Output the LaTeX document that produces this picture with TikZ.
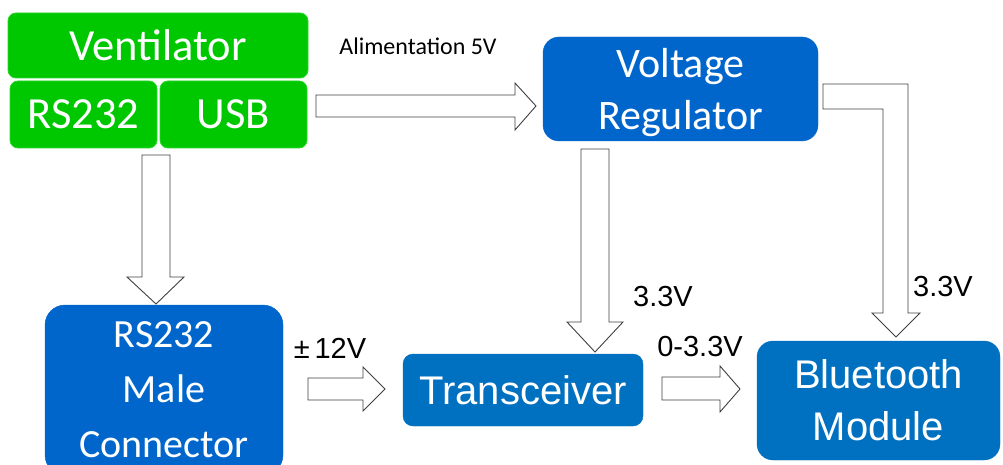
\documentclass[tikz,border=0pt]{standalone}
\usepackage{fontspec}
\setmainfont{Carlito}
\newfontfamily\arialf{Liberation Sans}
\definecolor{vgreen}{RGB}{0,200,0}
\definecolor{vgreenb}{RGB}{40,215,40}
\definecolor{vblue}{RGB}{0,102,204}
\definecolor{tblue}{RGB}{0,112,192}
\tikzset{
  gbox/.style={fill=vgreen, draw=vgreenb, line width=0.8pt, rounded corners=8pt, text=white, align=center, inner sep=0pt, font={\fontsize{44.5}{52}\selectfont}},
  bbox/.style={fill=vblue, draw=vblue, rounded corners=16pt, text=white, align=center, inner sep=0pt},
  tbox/.style={fill=tblue, draw=tblue, rounded corners=12pt, text=white, align=center, inner sep=0pt},
  wtext/.style={text=white, align=center, inner sep=0pt},
  blockarrow/.style={fill=white, draw=black!75, line width=0.9pt, line join=miter},
  lbl/.style={text=black, inner sep=0pt, font={\arialf\fontsize{29}{34}\selectfont}}
}
\begin{document}
\begin{tikzpicture}[x=1pt,y=-1pt]
\useasboundingbox (0,0) rectangle (1003,465);
\clip (0,0) rectangle (1003,465);
% green boxes
\node[gbox, minimum width=300pt, minimum height=65pt] (vent) at (158,45.5) {Ventilator};
\node[gbox, minimum width=147pt, minimum height=67pt] (rs) at (83.5,114.5) {RS232};
\node[gbox, minimum width=147pt, minimum height=67pt] (usb) at (233.5,114.5) {USB};
% blue boxes
\node[bbox, minimum width=275pt, minimum height=104pt] (vr) at (680.5,89) {};
\node[wtext, font={\fontsize{42}{52}\selectfont}] (vrt) at (680.5,93) {Voltage\\Regulator};
\node[bbox, rounded corners=20pt, minimum width=238pt, minimum height=170pt, font={\fontsize{40}{55}\selectfont}] (male) at (164,390) {RS232\\Male\\Connector};
\node[tbox, rounded corners=10pt, minimum width=240pt, minimum height=72pt, font={\arialf\fontsize{40}{48}\selectfont}] (trans) at (523,390) {Transceiver};
\node[tbox, rounded corners=16pt, minimum width=243pt, minimum height=119pt, font={\arialf\fontsize{40}{52}\selectfont}] (bt) at (878.5,400.5) {Bluetooth\\Module};
% labels
\node[lbl, font={\fontsize{24}{28}\selectfont}] (alim) at (418,46) {Alimentation 5V};
\node[lbl] (v33a) at (663,297) {3.3V};
\node[lbl] (v33b) at (943,287) {3.3V};
\node[lbl] (v12) at (330,348) {±\,12V};
\node[lbl] (v033) at (700,347) {0-3.3V};
% block arrows
% RS232 -> Male connector
\draw[blockarrow] (142,155) -- (170,155) -- (170,277) -- (184,277) -- (156,304) -- (127,277) -- (142,277) -- cycle;
% USB -> Voltage regulator
\draw[blockarrow] (316,95) -- (515,95) -- (515,83) -- (536,106) -- (515,130) -- (515,117) -- (316,117) -- cycle;
% Voltage regulator -> Transceiver
\draw[blockarrow] (581,149) -- (609,149) -- (609,322) -- (623,322) -- (595,352) -- (567,322) -- (581,322) -- cycle;
% Voltage regulator -> Bluetooth (bent)
\draw[blockarrow] (823,84) -- (908,84) -- (908,313) -- (920,313) -- (896,337) -- (872,313) -- (883,313) -- (883,109) -- (823,109) -- cycle;
% Male connector -> Transceiver
\draw[blockarrow] (308,378) -- (363,378) -- (363,367) -- (385,389) -- (363,411) -- (363,400) -- (308,400) -- cycle;
% Transceiver -> Bluetooth
\draw[blockarrow] (662,377) -- (720,377) -- (720,366) -- (740,389) -- (720,412) -- (720,400) -- (662,400) -- cycle;
\end{tikzpicture}
\end{document}
